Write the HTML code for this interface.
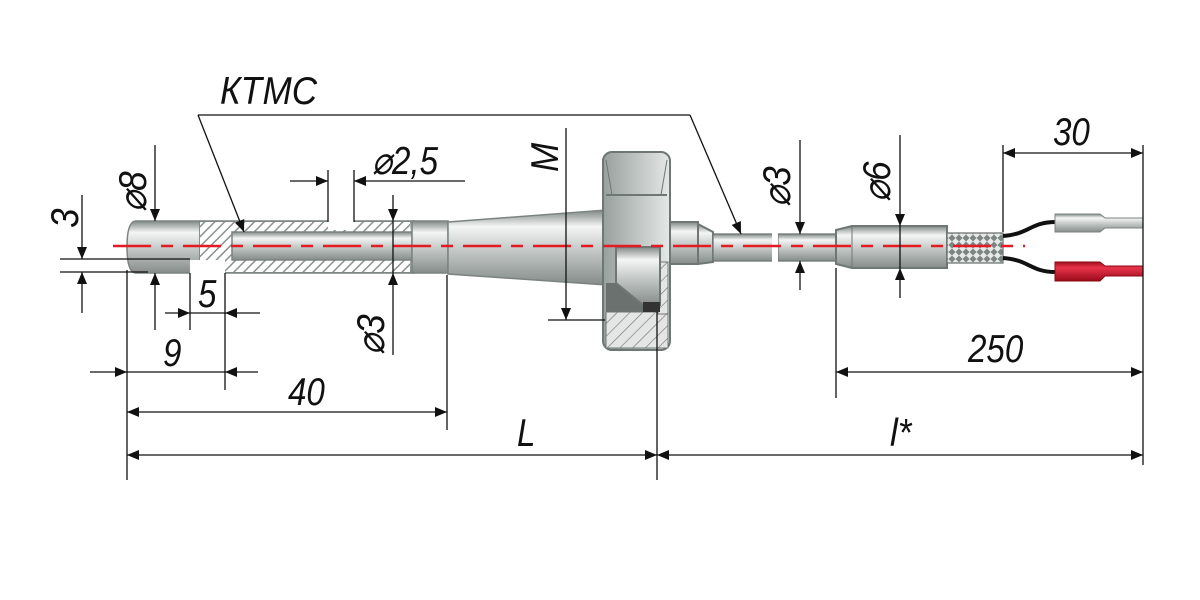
<!DOCTYPE html>
<html><head><meta charset="utf-8"><style>
html,body{margin:0;padding:0;background:#fff;}
svg{display:block}
text{font-family:"Liberation Sans",sans-serif;font-style:italic;font-size:39px;fill:#111;}
</style></head><body>
<svg width="1200" height="600" viewBox="0 0 1200 600" xmlns="http://www.w3.org/2000/svg">
<defs>
<linearGradient id="m" x1="0" y1="0" x2="0" y2="1">
<stop offset="0" stop-color="#7f8785"/><stop offset="0.22" stop-color="#f4f6f5"/><stop offset="0.5" stop-color="#c9cecc"/><stop offset="1" stop-color="#858c8a"/>
</linearGradient>
<linearGradient id="r" x1="0" y1="0" x2="0" y2="1">
<stop offset="0" stop-color="#a0101c"/><stop offset="0.3" stop-color="#e8334a"/><stop offset="1" stop-color="#9a0a18"/>
</linearGradient>
<linearGradient id="nut" x1="0" y1="0" x2="1" y2="0">
<stop offset="0" stop-color="#98a09e"/><stop offset="1" stop-color="#e4e8e6"/>
</linearGradient>
<pattern id="h" width="9" height="9" patternUnits="userSpaceOnUse" patternTransform="rotate(45)">
<rect width="9" height="9" fill="#e4e6e5"/><line x1="0" y1="0" x2="0" y2="9" stroke="#777" stroke-width="1.3"/>
</pattern>
<pattern id="hw" width="7" height="7" patternUnits="userSpaceOnUse" patternTransform="rotate(45)">
<rect width="7" height="7" fill="#fff"/><line x1="0" y1="0" x2="0" y2="7" stroke="#8a918f" stroke-width="3"/>
</pattern>
<pattern id="br" width="7" height="7" patternUnits="userSpaceOnUse">
<rect width="7" height="7" fill="#7d8583"/><path d="M0 3.5 L3.5 0 L7 3.5 L3.5 7Z" fill="#e6e9e8"/>
</pattern>
<marker id="a" viewBox="0 0 12 10" refX="12" refY="5" markerWidth="12" markerHeight="10" orient="auto-start-reverse" markerUnits="userSpaceOnUse">
<path d="M0 0 L12 5 L0 10 Z" fill="#111"/></marker>
</defs>

<!-- probe tip -->
<g stroke="#7b8381" stroke-width="1.5">
<path d="M136 221 L200 221 L200 273 L136 273 Q127 273 127 247 Q127 221 136 221Z" fill="url(#m)"/>
<rect x="200" y="221" width="214" height="52" fill="url(#m)"/>
<rect x="200" y="222" width="210" height="50" fill="url(#hw)" stroke="none"/>
<rect x="232" y="232" width="180" height="28" fill="url(#m)"/>
<rect x="412" y="221" width="36" height="52" fill="url(#m)"/>
<path d="M448 222 L606 210 L606 285 L448 274 Z" fill="url(#m)"/>
</g>
<rect x="328" y="212" width="26" height="18" fill="#fff"/>
<rect x="190" y="260" width="35" height="15" fill="#fff"/>

<!-- nut -->
<g stroke="#6f7775" stroke-width="2">
<rect x="603" y="152" width="67" height="198" rx="9" fill="url(#nut)"/>
<path d="M606 195 L667 195" />
<path d="M606 160 Q612 195 612 195 M667 160 Q661 195 661 195" fill="none" stroke-width="1"/>
<rect x="606" y="283" width="40" height="30" fill="#6a716f" stroke="none"/>
<rect x="606" y="312" width="62" height="36" fill="url(#h)" stroke-width="1"/>
<rect x="658" y="262" width="10" height="52" fill="url(#h)" stroke-width="1"/>
<path d="M616 247 L660 247 L660 305 L643 305 L616 283 Z" fill="url(#m)"/>
<rect x="643" y="302" width="17" height="10" fill="#333" stroke="none"/>
<rect x="670" y="222" width="28" height="42" fill="url(#m)"/>
<path d="M698 224 L713 232 L713 262 L698 264 Z" fill="url(#m)"/>
<rect x="713" y="234" width="60" height="27" fill="url(#m)" stroke-width="1.3"/>
<rect x="778" y="234" width="60" height="27" fill="url(#m)" stroke-width="1.3"/>
<path d="M836 230 L852 226 L947 226 L947 268 L852 268 L836 264 Z" fill="url(#m)"/>
<line x1="852" y1="226" x2="852" y2="268" stroke-width="1"/>
<rect x="947" y="233" width="56" height="30" fill="url(#br)" stroke-width="1.3"/>
</g>
<rect x="772" y="230" width="6" height="36" fill="#fff"/>
<!-- wires -->
<path d="M1003 236 C1030 234 1030 222 1056 222" fill="none" stroke="#111" stroke-width="4"/>
<path d="M1003 258 C1030 260 1030 272 1056 272" fill="none" stroke="#111" stroke-width="4"/>
<path d="M1055 214 L1100 214 L1105 218 L1143 218 L1143 228 L1105 228 L1100 232 L1055 232Z" fill="url(#m)" stroke="#7b8381"/>
<path d="M1055 262 L1100 262 L1105 266 L1143 266 L1143 276 L1105 276 L1100 281 L1055 281Z" fill="url(#r)" stroke="#8a0a15"/>

<!-- centerline -->
<line x1="113" y1="246" x2="1025" y2="246" stroke="#e31b23" stroke-width="2.5" stroke-dasharray="38,10,12,10"/>

<!-- dimension lines -->
<g stroke="#111" stroke-width="1.3" fill="none">
<path d="M690 115 L198 115"/>
<line x1="198" y1="115" x2="244" y2="232" marker-end="url(#a)"/>
<line x1="690" y1="115" x2="741" y2="234" marker-end="url(#a)"/>
<line x1="155" y1="145" x2="155" y2="221" marker-end="url(#a)"/>
<line x1="155" y1="330" x2="155" y2="273" marker-end="url(#a)"/>
<line x1="82" y1="195" x2="82" y2="259" marker-end="url(#a)"/>
<line x1="82" y1="313" x2="82" y2="272" marker-end="url(#a)"/>
<line x1="60" y1="259" x2="190" y2="259"/><line x1="60" y1="272" x2="148" y2="272"/>
<line x1="165" y1="313" x2="190" y2="313" marker-end="url(#a)"/>
<line x1="260" y1="313" x2="225" y2="313" marker-end="url(#a)"/>
<line x1="190" y1="313" x2="225" y2="313"/>
<line x1="190" y1="273" x2="190" y2="330"/><line x1="225" y1="273" x2="225" y2="390"/>
<line x1="90" y1="372" x2="127" y2="372" marker-end="url(#a)"/>
<line x1="258" y1="372" x2="225" y2="372" marker-end="url(#a)"/>
<line x1="127" y1="372" x2="225" y2="372"/>
<line x1="127" y1="270" x2="127" y2="480"/>
<line x1="127" y1="412" x2="447" y2="412" marker-start="url(#a)" marker-end="url(#a)"/>
<line x1="447" y1="275" x2="447" y2="430"/>
<line x1="290" y1="181" x2="328" y2="181" marker-end="url(#a)"/>
<line x1="465" y1="181" x2="354" y2="181" marker-end="url(#a)"/>
<line x1="328" y1="170" x2="328" y2="222"/><line x1="354" y1="170" x2="354" y2="222"/>
<line x1="393" y1="195" x2="393" y2="221" marker-end="url(#a)"/>
<line x1="393" y1="355" x2="393" y2="273" marker-end="url(#a)"/>
<line x1="393" y1="221" x2="393" y2="273"/>
<line x1="566" y1="128" x2="566" y2="320" marker-end="url(#a)"/>
<line x1="548" y1="320" x2="605" y2="320"/>
<line x1="800" y1="140" x2="800" y2="234" marker-end="url(#a)"/>
<line x1="800" y1="290" x2="800" y2="261" marker-end="url(#a)"/>
<line x1="900" y1="135" x2="900" y2="226" marker-end="url(#a)"/>
<line x1="900" y1="298" x2="900" y2="268" marker-end="url(#a)"/>
<line x1="900" y1="226" x2="900" y2="268"/>
<line x1="1003" y1="153" x2="1143" y2="153" marker-start="url(#a)" marker-end="url(#a)"/>
<line x1="1003" y1="145" x2="1003" y2="232"/>
<line x1="1143" y1="145" x2="1143" y2="465"/>
<line x1="836" y1="372" x2="1143" y2="372" marker-start="url(#a)" marker-end="url(#a)"/>
<line x1="836" y1="268" x2="836" y2="398"/>
<line x1="127" y1="455" x2="657" y2="455" marker-start="url(#a)" marker-end="url(#a)"/>
<line x1="657" y1="455" x2="1143" y2="455" marker-start="url(#a)" marker-end="url(#a)"/>
<line x1="657" y1="312" x2="657" y2="480"/>
</g>

<!-- labels -->
<text x="220" y="104" transform="translate(220 0) scale(0.9 1) translate(-220 0)">КТМС</text>
<text x="0" y="0" transform="translate(146 212) rotate(-90) scale(0.9 1)">⌀8</text>
<text x="0" y="0" transform="translate(78 228) rotate(-90) scale(0.9 1)">3</text>
<text x="198" y="307" transform="translate(198 0) scale(0.85 1) translate(-198 0)">5</text>
<text x="163" y="366" transform="translate(163 0) scale(0.85 1) translate(-163 0)">9</text>
<text x="288" y="405" transform="translate(288 0) scale(0.85 1) translate(-288 0)">40</text>
<text x="372" y="174" transform="translate(372 0) scale(0.85 1) translate(-372 0)">⌀2,5</text>
<text x="0" y="0" transform="translate(384 355) rotate(-90) scale(0.9 1)">⌀3</text>
<text x="0" y="0" transform="translate(558 172) rotate(-90) scale(0.9 1)">M</text>
<text x="0" y="0" transform="translate(790 207) rotate(-90) scale(0.9 1)">⌀3</text>
<text x="0" y="0" transform="translate(890 202) rotate(-90) scale(0.9 1)">⌀6</text>
<text x="1053" y="145" transform="translate(1053 0) scale(0.85 1) translate(-1053 0)">30</text>
<text x="968" y="362" transform="translate(968 0) scale(0.85 1) translate(-968 0)">250</text>
<text x="517" y="446" transform="translate(517 0) scale(0.85 1) translate(-517 0)">L</text>
<text x="890" y="446" transform="translate(890 0) scale(0.9 1) translate(-890 0)">l*</text>
</svg>
</body></html>
